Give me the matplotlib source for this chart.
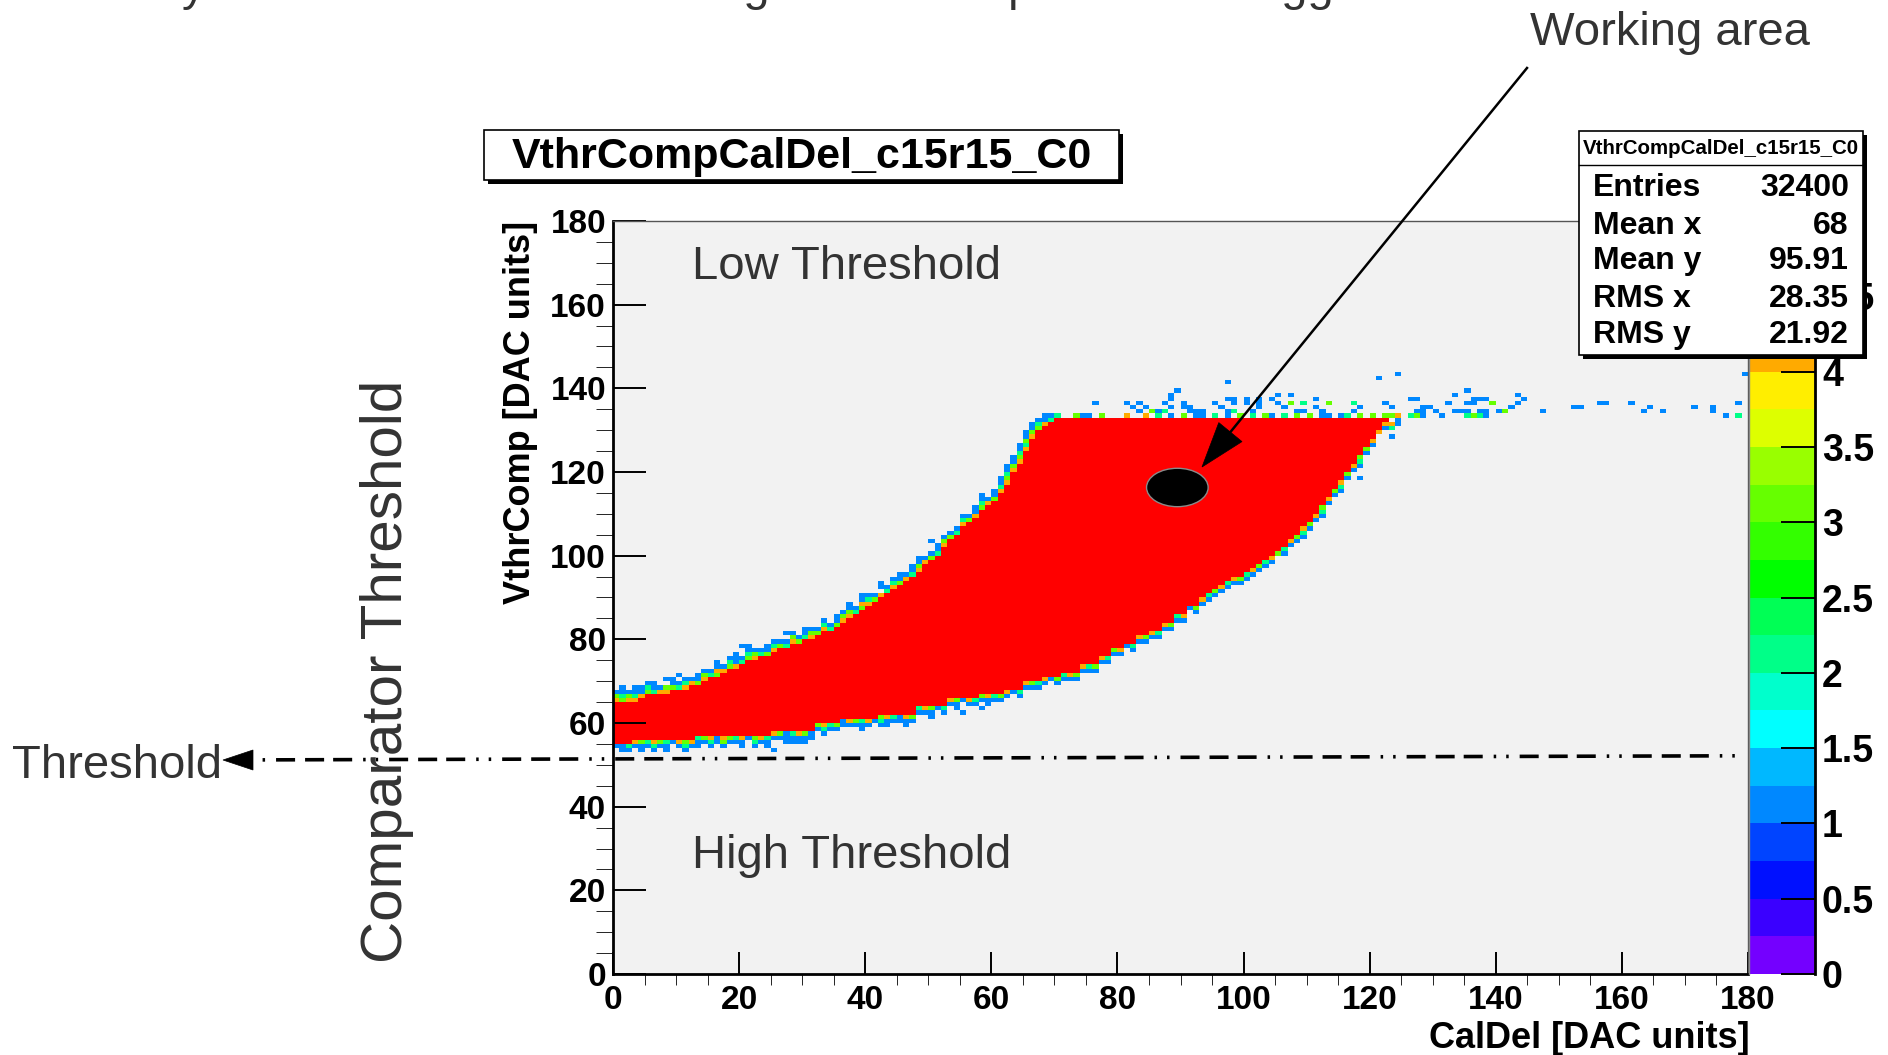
import numpy as np
import matplotlib
matplotlib.use("Agg")
import matplotlib.pyplot as plt
from matplotlib.colors import ListedColormap, BoundaryNorm
from matplotlib.patches import Ellipse, Rectangle, Polygon
from matplotlib.lines import Line2D
from matplotlib.transforms import Affine2D
from matplotlib.ticker import MultipleLocator

plt.rcParams["font.family"] = ["Liberation Sans", "DejaVu Sans"]
plt.rcParams["font.weight"] = "bold"
plt.rcParams["lines.scale_dashes"] = False

# ---------------------------------------------------------------- data
# VthrComp vs CalDel scan of pixel c15r15, 180 x 180 bins, 0..5 hits per bin
n_bins = 180

# per CalDel column: lowest and highest VthrComp bin with 5/5 hits
red_low = [55, 55, 55] + [56] * 10 + [57] * 12 + [58] * 7 + [60] * 4 + [61] * 6 \
    + [62] * 6 + [64] * 5 + [66] * 5 + [67] * 4 + [68] * 3 + [70] * 3 + [71] * 3 \
    + [72] * 3 + [74] * 3 + [76, 76, 78, 78, 79, 79, 81, 81, 82, 82, 84, 84, 86, 86, 88, 88] \
    + [90, 91, 92, 93, 94, 95, 95, 96, 97, 98, 99, 100, 101, 102, 104, 105, 107, 108,
       110, 112, 114, 116, 118, 120, 122, 124, 126, 128, 130, 132]
red_high = [64, 64, 64, 64, 65, 66, 66, 66, 66, 67, 67, 67, 68, 68, 69, 70, 70, 71, 72, 72,
            73, 74, 74, 75, 75, 76, 77, 77, 78, 78, 79, 79, 80, 81, 81, 82, 83, 84, 85, 86,
            87, 88, 89, 90, 91, 92, 93, 94, 95, 97, 98, 99, 101, 103, 104, 106, 107, 108,
            110, 111, 112, 114, 116, 119, 121, 124, 127, 129, 130, 131] + [132] * 53

# partial-efficiency bins just above red_high (one digit per bin, going up)
fringe_up = ["431", "3211", "431", "4211", "411", "321", "211", "41", "4301", "311",
             "21", "421", "41", "311", "431", "21", "3411", "41", "321", "4101",
             "21", "3211", "431", "21", "311", "421", "31", "2101", "431", "31",
             "211", "431", "31", "421", "21", "311", "431", "4311", "21", "341",
             "421", "31", "4011", "21", "421", "311", "41", "211", "4311", "41",
             "31", "211", "431", "31", "21", "421", "31", "411", "3211", "41",
             "311", "4211", "43211", "4311", "43211", "42311", "4311", "321", "411", "21"]

# partial-efficiency bins just below red_low (one digit per bin, going down)
fringe_down = ["1", "11", "21", "41", "311", "21", "421", "31", "211", "1",
               "41", "321", "41", "211", "31", "421", "11", "431", "31", "21",
               "411", "1", "321", "41", "211", "41", "31", "11", "211", "41",
               "311", "11", "31", "421", "21", "31", "11", "41", "31", "211",
               "41", "1", "321", "41", "21", "11", "411", "31", "21", "41",
               "311", "1", "21", "41", "31", "1", "41", "21", "31", "411",
               "21", "31", "41", "1", "21", "41", "31", "21", "41", "1",
               "31", "21", "41", "31", "41", "21", "31", "41", "21", "31",
               "41", "1", "21", "41", "31", "41", "21", "41", "31", "21",
               "41", "1", "31", "41", "21", "31", "41", "21", "41", "31",
               "21", "41", "31", "21", "41", "3", "21", "41", "31", "421",
               "31", "41", "321", "41", "31", "421", "31", "41", "321", "31",
               "41", "4", "41"]

# isolated hits around the plateau
scatter_x = [68, 69, 70, 73, 74, 75, 77, 81, 84, 86, 88, 90, 92, 93, 95, 97, 99, 101, 103, 104,
             106, 108, 110, 112, 113, 115, 116, 118, 120, 122, 123, 124, 126, 127, 128, 131, 135, 136, 137, 138,
             176, 178,
             83, 85, 86, 87, 91, 92, 93, 97, 98, 101, 108, 109, 112, 117, 127, 128, 130, 133, 134, 135,
             137, 138, 140, 141, 147, 163, 166, 174,
             82, 84, 88, 90, 91, 96, 102, 106, 111, 118, 123, 128, 129, 142, 152, 153, 164, 171, 174,
             76, 81, 83, 87, 90, 95, 98, 100, 102, 105, 107, 109, 113, 117, 122, 132, 135, 136, 139, 143,
             156, 157, 161, 178,
             88, 97, 98, 100, 102, 104, 111, 126, 127, 136, 137, 138, 144,
             88, 105, 107, 133, 143, 89, 135, 97, 121, 124, 179,
             123, 123, 124, 124, 123, 118, 25, 27, 28, 29, 43, 54, 55, 58, 20, 19, 10, 39, 50, 63]
scatter_y = [133] * 42 + [134] * 28 + [135] * 19 + [136] * 24 + [137] * 13 \
    + [138] * 5 + [139] * 2 + [141, 142, 143, 143] \
    + [131, 130, 132, 131, 128, 118, 53, 55, 55, 55, 59, 63, 62, 63, 78, 75, 71, 90, 103, 123]
scatter_v = [1, 1, 2, 3, 1, 1, 3, 4, 4, 2, 1, 3, 1, 1, 2, 1, 3, 2, 3, 1,
             2, 3, 3, 1, 1, 1, 2, 3, 3, 3, 3, 4, 2, 3, 1, 1, 2, 3, 2, 1,
             1, 2,
             1, 3, 1, 2, 1, 1, 1, 1, 2, 1, 1, 1, 1, 1, 1, 1, 1, 1, 1, 1,
             1, 1, 1, 3, 1, 1, 1, 1,
             1, 1, 1, 1, 1, 1, 1, 1, 1, 1, 1, 1, 1, 1, 1, 1, 1, 1, 1,
             1, 1, 1, 1, 1, 1, 1, 1, 1, 1, 3, 2, 3, 2, 1, 1, 1, 1, 3, 1,
             1, 1, 1, 1,
             1, 1, 1, 1, 1, 1, 1, 1, 1, 1, 1, 1, 1,
             1, 1, 1, 1, 1, 1, 1, 1, 1, 1, 1,
             4, 2, 1, 1, 1, 1, 1, 1, 1, 1, 1, 1, 1, 1, 1, 1, 1, 1, 1, 1]

# z-axis contour levels and palette
z_levels = np.linspace(0, 5, 21)
palette = ["#7400ff", "#3a00ff", "#0010ff", "#0044ff", "#0088ff", "#00b8ff", "#00ffff",
           "#00ffcc", "#00ff88", "#00ff55", "#00ff00", "#33ff00", "#66ff00", "#99ff00",
           "#ddff00", "#ffee00", "#ffaa00", "#ff7700", "#ff4400", "#ff0000"]

x_ticks = list(range(0, 181, 20))
y_ticks = list(range(0, 181, 20))
z_ticks = [0, 0.5, 1, 1.5, 2, 2.5, 3, 3.5, 4, 4.5]

stats_rows = [("Entries", "32400"), ("Mean x", "68"), ("Mean y", "95.91"),
              ("RMS x", "28.35"), ("RMS y", "21.92")]
hist_name = "VthrCompCalDel_c15r15_C0"

# ---------------------------------------------------------------- histogram
counts = np.zeros((n_bins, n_bins))
for c, (lo, hi) in enumerate(zip(red_low, red_high)):
    counts[lo:hi + 1, c] = 5
    up = fringe_up[c] if c < len(fringe_up) else ""
    for k, ch in enumerate(up):
        counts[hi + 1 + k, c] = int(ch)
    for k, ch in enumerate(fringe_down[c]):
        counts[lo - 1 - k, c] = int(ch)
for x, y, v in zip(scatter_x, scatter_y, scatter_v):
    if counts[y, x] == 0:
        counts[y, x] = v

# ---------------------------------------------------------------- figure
W, H = 1888, 1055
fig = plt.figure(figsize=(W / 100, H / 100), dpi=100)
fig.patch.set_facecolor("white")
px = Affine2D().scale(1 / W, -1 / H).translate(0, 1) + fig.transFigure

cmap = ListedColormap(palette).with_extremes(over=palette[-1])
norm = BoundaryNorm(z_levels, cmap.N)
edges = np.arange(n_bins + 1)

ax = fig.add_axes([613 / W, (H - 974) / H, 1135 / W, 753 / H])
ax.set_facecolor("#f2f2f2")
ax.pcolormesh(edges, edges, np.ma.masked_equal(counts, 0), cmap=cmap, norm=norm)
ax.set_xlim(0, 180)
ax.set_ylim(0, 180)
ax.set_xticks(x_ticks)
ax.set_yticks(y_ticks)
ax.xaxis.set_minor_locator(MultipleLocator(5))
ax.yaxis.set_minor_locator(MultipleLocator(5))
ax.tick_params(top=False, right=False, direction="in", colors="black", width=1.4)
ax.tick_params(axis="x", which="major", length=15.8, labelsize=24, pad=8)
ax.tick_params(axis="x", which="minor", length=7.9)
ax.tick_params(axis="y", which="major", length=23.8, labelsize=24, pad=5)
ax.tick_params(axis="y", which="minor", length=12.2)
for s in ("left", "bottom"):
    ax.spines[s].set_linewidth(2.0)
    ax.spines[s].set_color("black")
for s in ("top", "right"):
    ax.spines[s].set_linewidth(1.0)
    ax.spines[s].set_color("#555555")

ax.add_patch(Ellipse((89.5, 116.3), 9.77, 9.18, facecolor="black",
                     edgecolor="#8a8a8a", lw=1.0, zorder=5))

# z-axis palette bar
cax = fig.add_axes([1749 / W, (H - 974) / H, 66 / W, 753 / H])
mid = (z_levels[:-1] + z_levels[1:]) / 2
cax.pcolormesh([0, 1], z_levels, mid[:, None], cmap=cmap, norm=norm)
cax.set_xlim(0, 1)
cax.set_ylim(0, 5)
cax.set_xticks([])
cax.yaxis.set_ticks_position("right")
cax.set_yticks(z_ticks)
cax.set_yticklabels([f"{t:g}" for t in z_ticks])
cax.tick_params(axis="y", direction="in", length=24.5, width=1.4, labelsize=27, pad=5)
cax.spines["top"].set_visible(False)
cax.spines["bottom"].set_visible(False)
cax.spines["left"].set_color("#888888")
cax.spines["left"].set_linewidth(1.0)
cax.spines["right"].set_color("black")
cax.spines["right"].set_linewidth(2.0)

# axis titles
fig.text(520, 221, "VthrComp [DAC units]", transform=px, rotation=90,
         ha="center", va="top", fontsize=26)
fig.text(1750, 1048, "CalDel [DAC units]", transform=px, ha="right",
         va="baseline", fontsize=26)

# histogram title box
fig.add_artist(Rectangle((488, 134), 635, 50, transform=px, facecolor="black",
                         edgecolor="none", zorder=6))
fig.add_artist(Rectangle((484, 130), 635, 50, transform=px, facecolor="white",
                         edgecolor="black", lw=1.2, zorder=7))
fig.text(802, 168, hist_name, transform=px, ha="center", va="baseline",
         fontsize=31, zorder=8)

# statistics box
fig.add_artist(Rectangle((1583, 135), 284, 224, transform=px, facecolor="black",
                         edgecolor="none", zorder=6))
fig.add_artist(Rectangle((1579, 131), 284, 224, transform=px, facecolor="white",
                         edgecolor="black", lw=1.2, zorder=7))
fig.add_artist(Line2D([1579, 1863], [165, 165], transform=px, color="black",
                      lw=1.0, zorder=8))
fig.text(1721, 149, hist_name, transform=px, ha="center", va="center",
         fontsize=14.8, zorder=8)
for (lab, val), yc in zip(stats_rows, [188, 226, 261, 299, 335]):
    fig.text(1593, yc, lab, transform=px, ha="left", va="center", fontsize=23, zorder=8)
    fig.text(1849, yc, val, transform=px, ha="right", va="center", fontsize=23, zorder=8)

# annotations
note = dict(transform=px, color="#333333", fontweight="normal", zorder=9)
fig.text(85, 0.0, "Delay of the internal calibrate signal with respect to the trigger",
         ha="left", va="baseline", fontsize=34, **note)
fig.text(1530, 45, "Working area", ha="left", va="baseline", fontsize=34, **note)
fig.text(692, 279, "Low Threshold", ha="left", va="baseline", fontsize=34, **note)
fig.text(692, 868, "High Threshold", ha="left", va="baseline", fontsize=34, **note)
fig.text(12, 778, "Threshold", ha="left", va="baseline", fontsize=34, **note)
fig.text(387, 671, "Comparator Threshold", rotation=90, ha="center", va="center",
         fontsize=42, **note)

# threshold marker line with arrow
fig.add_artist(Line2D([253, 1737], [759.9, 755.8], transform=px, color="black", lw=2.6,
                      linestyle=(64.8, (13.7, 7.2, 13.7, 6.5, 13.7, 7.9, 1.8, 7.2, 1.8, 7.9)),
                      zorder=9))
fig.add_artist(Polygon([(223, 760), (253, 750), (253, 770)], closed=True, transform=px,
                       facecolor="black", edgecolor="black", lw=0.5, zorder=9))

# working-area arrow
fig.add_artist(Line2D([1527, 1228], [68, 435], transform=px, color="black", lw=1.8,
                      zorder=9))
fig.add_artist(Polygon([(1202, 467), (1242.0, 441.6), (1218.8, 422.6)], closed=True,
                       transform=px, facecolor="black", edgecolor="black", lw=0.5,
                       zorder=9))

fig.savefig("out.png", dpi=100)
